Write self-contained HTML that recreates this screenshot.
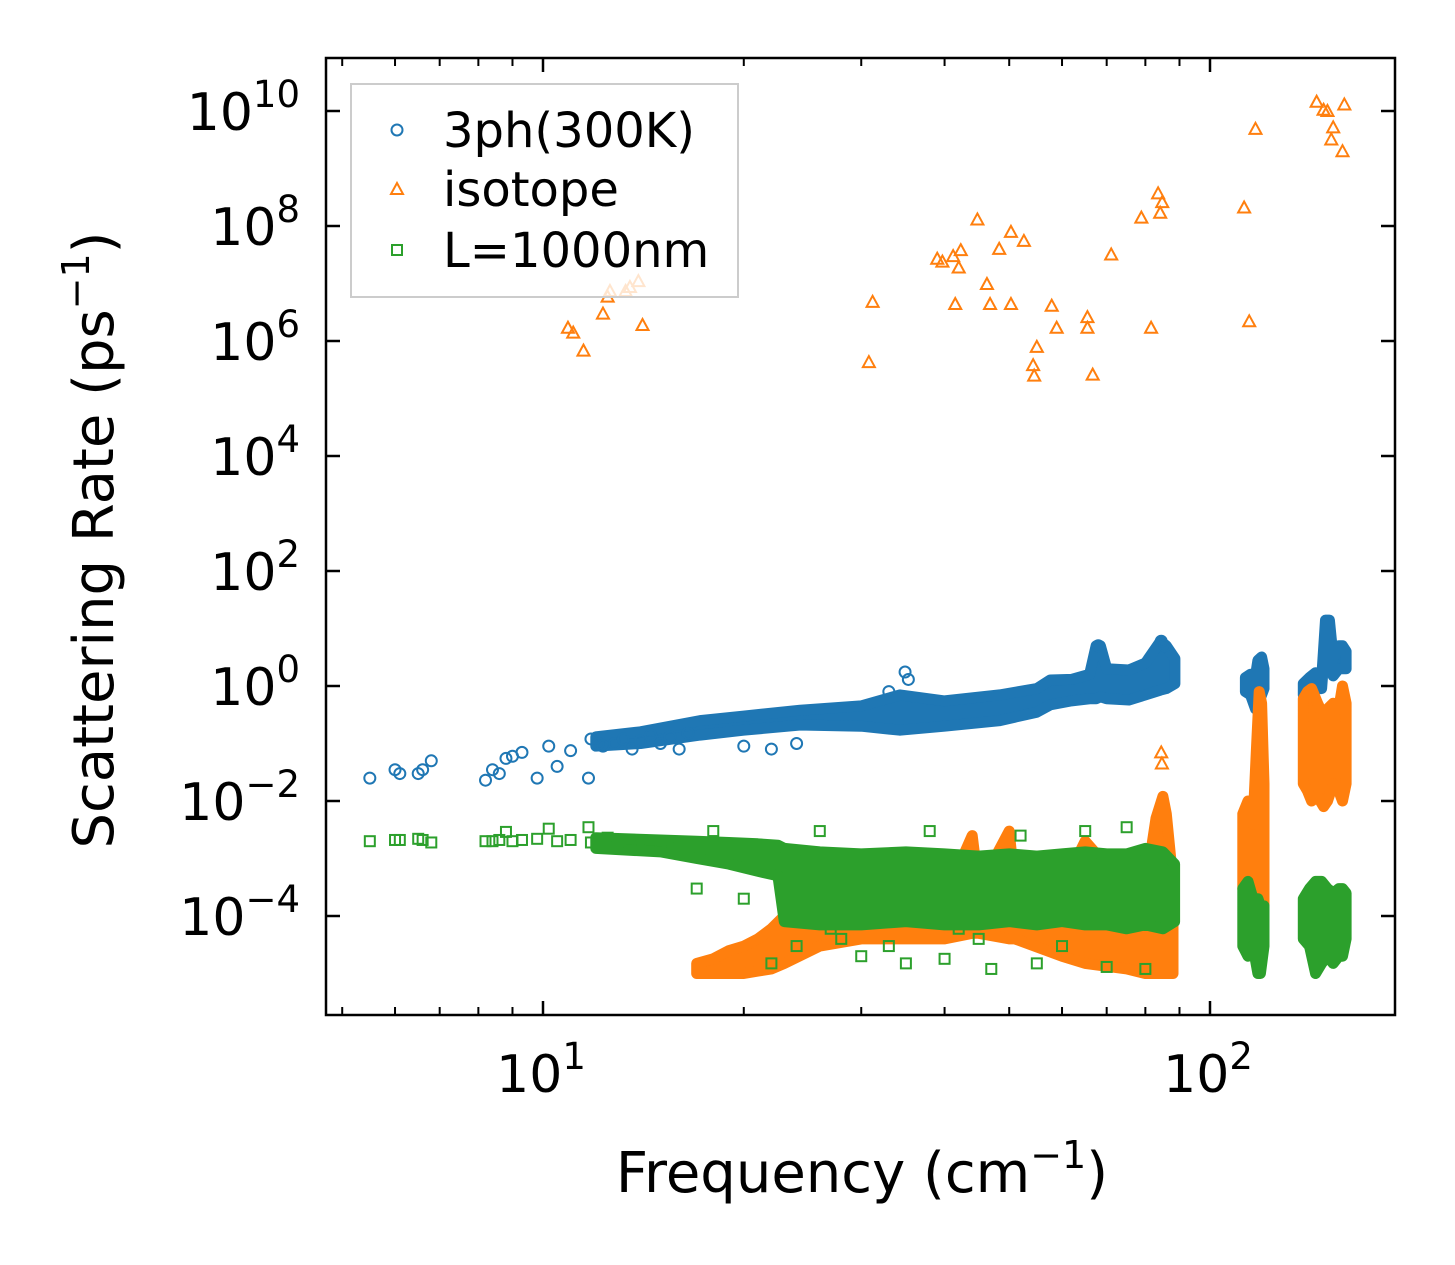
<!DOCTYPE html>
<html><head><meta charset="utf-8">
<style>
html,body{margin:0;padding:0;background:#fff;}
svg{display:block;font-family:"DejaVu Sans","Liberation Sans",sans-serif;}
</style></head>
<body>
<svg id="chart" width="1455" height="1265" viewBox="0 0 1455 1265" xmlns="http://www.w3.org/2000/svg">
<rect width="1455" height="1265" fill="#fff"/>
<g id="bands"></g>
<g id="marks"></g>
<rect x="326" y="58" width="1069" height="957" fill="none" stroke="#000" stroke-width="2.5"/>
<g id="ticks"></g>
<g id="labels"></g>
<text x="862" y="1192" font-size="56" text-anchor="middle">Frequency (cm<tspan font-size="38" dy="-24">−1</tspan><tspan dy="24">)</tspan></text>
<text transform="translate(113,540) rotate(-90)" font-size="56" text-anchor="middle">Scattering Rate (ps<tspan font-size="38" dy="-24">−1</tspan><tspan dy="24">)</tspan></text>
<g>
<rect x="351" y="84" width="387" height="213" fill="#fff" fill-opacity="0.8" stroke="#ccc" stroke-width="2"/>
<circle cx="397" cy="130" r="5.5" fill="none" stroke="#1f77b4" stroke-width="2"/>
<text x="443" y="147" font-size="48">3ph(300K)</text>
<path d="M397,183 L403,194 L391,194 Z" fill="none" stroke="#ff7f0e" stroke-width="2"/>
<text x="443" y="206" font-size="48">isotope</text>
<rect x="392" y="245" width="10" height="10" fill="none" stroke="#2ca02c" stroke-width="2"/>
<text x="443" y="267" font-size="48">L=1000nm</text>
</g>
</svg>
<script>
// ---- data ----
const xTickVals = [10, 100];
const xTickLabels = ["1", "2"];
const xMinorVals = [5,6,7,8,9,20,30,40,50,60,70,80,90];
const yTickVals = [1e-4,1e-2,1,1e2,1e4,1e6,1e8,1e10];
const yTickLabels = ["−4","−2","0","2","4","6","8","10"];

// 3ph scattered points
const blueF = [5.5,6.0,6.1,6.5,6.6,6.8,8.2,8.4,8.6,8.8,9.0,9.3,9.8,10.2,10.5,11,11.7,11.8,12.1,12.3,12.8,13.2,13.6,14,14.5,15,15.5,16,16.5,20,22,24,34.9,35.3,33,68,84.5,85.5];
const blueR = [0.025,0.035,0.03,0.03,0.035,0.05,0.023,0.035,0.03,0.055,0.06,0.07,0.025,0.09,0.04,0.075,0.025,0.12,0.1,0.09,0.1,0.12,0.08,0.11,0.14,0.1,0.13,0.08,0.15,0.09,0.08,0.1,1.75,1.3,0.8,5,6,5];
// 3ph dense envelope
const blueBandF  = [12,14,17.2,20,24.3,30,34.3,40,48.4,55,57.6,62,66,67.5,68.5,70,75.6,80,84.3,86,88.6];
const blueBandLo = [0.09,0.1,0.14,0.17,0.21,0.2,0.17,0.2,0.25,0.35,0.47,0.55,0.6,0.6,0.65,0.6,0.57,0.7,0.85,0.9,1.1];
const blueBandHi = [0.13,0.16,0.25,0.3,0.38,0.45,0.7,0.55,0.7,0.9,1.27,1.3,1.6,5,5,2,1.9,2.5,6,5,3];
const blueC1F = [113,115,117,118,119.5,120.5]; const blueC1Lo=[0.8,0.7,0.4,0.5,0.7,0.9]; const blueC1Hi=[1.4,1.6,1.5,2.8,3.2,2];
const blueC2F = [138,141,144,147,149,151,153,156,158,160]; const blueC2Lo=[0.7,0.7,0.9,0.9,7,6,1.5,2,2,2]; const blueC2Hi=[1.1,1.4,1.7,1.3,14,14,3,5,5,4];

// isotope scattered points
const orangeF = [10.9,11.1,11.5,12.3,12.5,12.6,13.3,13.5,13.9,14.1,30.8,31.2,39.0,39.7,41.2,41.5,42.3,42.0,44.8,46.3,46.8,48.3,50.3,50.3,52.6,55.0,54.3,54.5,57.9,58.9,65.5,65.5,66.7,71.1,78.9,81.6,83.6,84.2,84.8,112.5,114.5,117,144.5,148,153,152,158,159,150,84.5,84.7];
const orangeR = [1.7e6,1.4e6,6.8e5,3e6,5.9e6,7.4e6,7.4e6,8.7e6,1.1e7,1.9e6,4.3e5,4.8e6,2.7e7,2.4e7,3e7,4.4e6,3.8e7,1.9e7,1.3e8,9.8e6,4.4e6,4e7,4.4e6,7.9e7,5.5e7,7.9e5,3.8e5,2.5e5,4.1e6,1.7e6,2.6e6,1.7e6,2.6e5,3.2e7,1.4e8,1.7e6,3.7e8,1.7e8,2.6e8,2.1e8,2.2e6,4.9e9,1.45e10,1.05e10,5.2e9,3.2e9,2e9,1.3e10,1e10,0.07,0.045];
const orangeBandF  = [17,18,19,20,21,22,23,26,30,40,44,45,50,51,60,65,75,80,83,85,86,88];
const orangeBandLo = [1e-5,1e-5,1e-5,1e-5,1.1e-5,1.2e-5,1.5e-5,3e-5,4e-5,4e-5,5e-5,5e-5,4e-5,4e-5,2e-5,1.5e-5,1.2e-5,1e-5,1e-5,1e-5,1e-5,1e-5];
const orangeBandHi = [1.5e-5,1.8e-5,2.5e-5,3e-5,4e-5,6e-5,1e-4,1.2e-4,1.5e-4,2e-4,2.5e-3,3e-4,3e-3,3e-4,3e-4,2e-3,3e-4,3e-4,5e-3,1.2e-2,6e-3,4e-4];
const orangeC1F = [112,114,116,117.5,118.5,119.5,120.5]; const orangeC1Lo=[3e-4,2e-4,3e-4,1e-4,1e-5,3e-5,1e-4]; const orangeC1Hi=[6e-3,1e-2,4e-3,0.1,0.8,0.5,0.02];
const orangeC2F = [138,140,142,145,148,150,153,156,158,160]; const orangeC2Lo=[0.02,0.015,0.01,0.012,0.008,0.01,0.02,0.015,0.01,0.02]; const orangeC2Hi=[0.6,0.8,0.9,0.5,0.3,0.4,0.5,0.4,1,0.5];

// boundary scattered points
const greenF = [5.5,6.0,6.1,6.5,6.6,6.8,8.2,8.4,8.6,8.8,9.0,9.3,9.8,10.2,10.5,11,11.7,11.8,12.5,13,13.5,14,15,16,17,18,22,30,35,40,47,55,70,80,24,28,33,45,60,26,38,52,65,75,20,27,42];
const greenR = [2e-3,2.1e-3,2.1e-3,2.2e-3,2.1e-3,1.9e-3,2e-3,2e-3,2.1e-3,2.9e-3,2e-3,2.1e-3,2.2e-3,3.3e-3,2e-3,2.1e-3,3.5e-3,1.9e-3,2.3e-3,2e-3,1.8e-3,1.6e-3,1.9e-3,1.5e-3,3e-4,3e-3,1.5e-5,2e-5,1.5e-5,1.8e-5,1.2e-5,1.5e-5,1.3e-5,1.2e-5,3e-5,4e-5,3e-5,4e-5,3e-5,3e-3,3e-3,2.5e-3,3e-3,3.5e-3,2e-4,6e-5,6e-5];
const greenBandF  = [12,15,17,19,21,22.5,23,26,30,35,40,45,50,55,60,65,70,75,80,85,88.5];
const greenBandLo = [1.5e-3,1.3e-3,1e-3,8e-4,6e-4,5e-4,8e-5,7e-5,7e-5,8e-5,7e-5,7e-5,8e-5,7e-5,8e-5,7e-5,7e-5,6e-5,7e-5,6e-5,8e-5];
const greenBandHi = [2.3e-3,2.1e-3,2e-3,1.9e-3,1.8e-3,1.7e-3,1.5e-3,1.3e-3,1.2e-3,1.3e-3,1.2e-3,1.1e-3,1.2e-3,1.1e-3,1.2e-3,1.3e-3,1.2e-3,1.2e-3,1.5e-3,1.3e-3,8e-4];
const greenC1F = [112,114,116,118,119,120.5]; const greenC1Lo=[3e-5,2e-5,3e-5,1e-5,1e-5,3e-5]; const greenC1Hi=[3e-4,4e-4,2e-4,2e-4,1.5e-4,1.5e-4];
const greenC2F = [138,141,144,147,150,153,156,158,160]; const greenC2Lo=[4e-5,3e-5,1e-5,1.5e-5,2e-5,1.5e-5,2e-5,2e-5,4e-5]; const greenC2Hi=[2e-4,3e-4,4e-4,4e-4,3e-4,2.5e-4,3e-4,3e-4,2.5e-4];

// ---- scales ----
const X0 = 543, XDEC = 667, Y0 = 686, YDEC = 57.5;
function xs(f){ return X0 + (Math.log10(f) - 1) * XDEC; }
function ys(r){ return Y0 - Math.log10(r) * YDEC; }
const NS = "http://www.w3.org/2000/svg";
const C = {blue:"#1f77b4", orange:"#ff7f0e", green:"#2ca02c"};

function band(parent, F, lo, hi, color, name){
  const p = document.createElementNS(NS, "polygon");
  const pts = [];
  for (let i=0;i<F.length;i++) pts.push(xs(F[i]).toFixed(1)+","+ys(hi[i]).toFixed(1));
  for (let i=F.length-1;i>=0;i--) pts.push(xs(F[i]).toFixed(1)+","+ys(lo[i]).toFixed(1));
  p.setAttribute("points", pts.join(" "));
  p.setAttribute("fill", color);
  p.setAttribute("stroke", color);
  p.setAttribute("stroke-width", "11");
  p.setAttribute("stroke-linejoin", "round");
  
  
  parent.appendChild(p);
}
function marker(parent, kind, f, r, color, name){
  const cx = xs(f), cy = ys(r);
  let el;
  if (kind === "c") {
    el = document.createElementNS(NS, "circle");
    el.setAttribute("cx", cx); el.setAttribute("cy", cy); el.setAttribute("r", 5.5);
  } else if (kind === "t") {
    el = document.createElementNS(NS, "path");
    el.setAttribute("d", `M${cx},${cy-6} L${cx+6},${cy+5} L${cx-6},${cy+5} Z`);
  } else {
    el = document.createElementNS(NS, "rect");
    el.setAttribute("x", cx-5); el.setAttribute("y", cy-5); el.setAttribute("width", 10); el.setAttribute("height", 10);
  }
  el.setAttribute("fill", "none");
  el.setAttribute("stroke", color);
  el.setAttribute("stroke-width", "2");
  
  
  parent.appendChild(el);
}
const marks = document.getElementById("marks");
function layer(name){ const g=document.createElementNS(NS,"g");   marks.appendChild(g); return g; }

const gB = layer("series-3ph");
band(gB, blueBandF, blueBandLo, blueBandHi, C.blue, "band-3ph-main");
band(gB, blueC1F, blueC1Lo, blueC1Hi, C.blue, "band-3ph-115");
band(gB, blueC2F, blueC2Lo, blueC2Hi, C.blue, "band-3ph-150");
for (let i=0;i<blueF.length;i++) marker(gB, "c", blueF[i], blueR[i], C.blue, "point-3ph");

const gO = layer("series-isotope");
band(gO, orangeBandF, orangeBandLo, orangeBandHi, C.orange, "band-isotope-main");
band(gO, orangeC1F, orangeC1Lo, orangeC1Hi, C.orange, "band-isotope-115");
band(gO, orangeC2F, orangeC2Lo, orangeC2Hi, C.orange, "band-isotope-150");
for (let i=0;i<orangeF.length;i++) marker(gO, "t", orangeF[i], orangeR[i], C.orange, "point-isotope");

const gG = layer("series-boundary");
band(gG, greenBandF, greenBandLo, greenBandHi, C.green, "band-boundary-main");
band(gG, greenC1F, greenC1Lo, greenC1Hi, C.green, "band-boundary-115");
band(gG, greenC2F, greenC2Lo, greenC2Hi, C.green, "band-boundary-150");
for (let i=0;i<greenF.length;i++) marker(gG, "s", greenF[i], greenR[i], C.green, "point-boundary");

// ---- ticks ----
const ticks = document.getElementById("ticks");
const labels = document.getElementById("labels");
function line(x1,y1,x2,y2,w,name){
  const l=document.createElementNS(NS,"line");
  l.setAttribute("x1",x1);l.setAttribute("y1",y1);l.setAttribute("x2",x2);l.setAttribute("y2",y2);
  l.setAttribute("stroke","#000");l.setAttribute("stroke-width",w);
  
  
  ticks.appendChild(l);
}
function powLabel(x,y,exp,anchor,name){
  const t=document.createElementNS(NS,"text");
  t.setAttribute("x",x);t.setAttribute("y",y);t.setAttribute("font-size","52");t.setAttribute("text-anchor",anchor);
  t.innerHTML = `10<tspan font-size="37" dy="-23">${exp}</tspan>`;
  
  
  labels.appendChild(t);
}
xTickVals.forEach((v,i)=>{
  const x=xs(v);
  line(x,1015,x,1001,2.5,"x-major-tick");
  line(x,58,x,72,2.5,"x-major-tick-top");
  powLabel(x-2,1092,xTickLabels[i],"middle","x-tick-label");
});
xMinorVals.forEach(v=>{
  const x=xs(v);
  line(x,1015,x,1007,2,"x-minor-tick");
  line(x,58,x,66,2,"x-minor-tick-top");
});
yTickVals.forEach((v,i)=>{
  const y=ys(v);
  line(326,y,340,y,2.5,"y-major-tick");
  line(1381,y,1395,y,2.5,"y-major-tick-right");
  powLabel(300,y+19,yTickLabels[i],"end","y-tick-label");
});
</script>
</body></html>
